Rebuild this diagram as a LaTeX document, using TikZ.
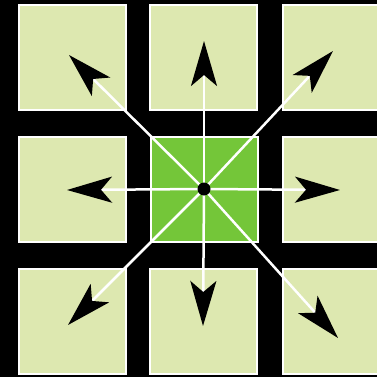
\documentclass[tikz,border=0pt]{standalone}
\usetikzlibrary{arrows.meta}
\definecolor{pale}{RGB}{221,232,176}
\definecolor{core}{RGB}{116,198,57}
\begin{document}
\begin{tikzpicture}[x=1pt,y=-1pt,
  cell/.style={draw=white,line width=2pt,fill=pale,minimum width=107pt,minimum height=105pt,inner sep=0pt,outer sep=0pt},
  ray/.style={draw=white,line width=2.5pt,-{Stealth[length=45pt,width=26pt,inset=11pt,color=black]}},
  hubdot/.style={circle,fill=black,minimum size=13pt,inner sep=0pt}]
\useasboundingbox (0,0) rectangle (377,377);
\fill[black] (0,0) rectangle (377,377);
\clip (0,0) rectangle (377,377);
\node[cell] (nw) at (72,58) {};
\node[cell] (n) at (203.5,58) {};
\node[cell] (ne) at (336,58) {};
\node[cell] (w) at (72,189) {};
\node[cell,fill=core] (c) at (204.5,189.5) {};
\node[cell] (e) at (336,189) {};
\node[cell] (sw) at (72,321) {};
\node[cell] (s) at (203.5,321) {};
\node[cell] (se) at (336,321) {};
\coordinate (o) at (204,189);
\coordinate (tNW) at (69,55);
\coordinate (tN) at (204,41);
\coordinate (tNE) at (333,51);
\coordinate (tW) at (67,190);
\coordinate (tE) at (340,190);
\coordinate (tSW) at (68,325);
\coordinate (tS) at (203,326);
\coordinate (tSE) at (338,338);
\foreach \t in {tNW,tN,tNE,tW,tE,tSW,tS,tSE}
  \draw[ray] (o) -- (\t);
\node[hubdot] (hub) at (o) {};
\end{tikzpicture}
\end{document}
